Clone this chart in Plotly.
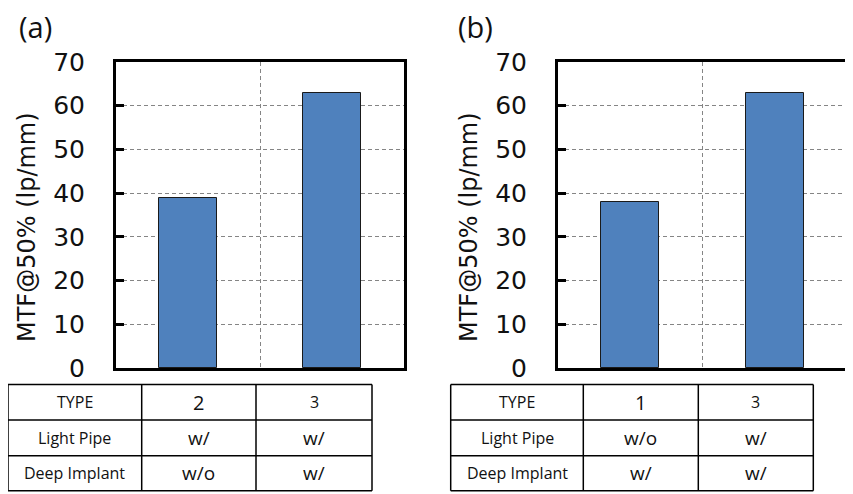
import plotly.graph_objects as go

# ---- data ----
panel_labels = ["(a)", "(b)"]
types_a = ["2", "3"]
types_b = ["1", "3"]
mtf_a = [39, 63]
mtf_b = [38, 63]
row_headers = ["TYPE", "Light Pipe", "Deep Implant"]
light_pipe_a = ["w/", "w/"]
deep_implant_a = ["w/o", "w/"]
light_pipe_b = ["w/o", "w/"]
deep_implant_b = ["w/", "w/"]
y_ticks = [0, 10, 20, 30, 40, 50, 60, 70]
y_title = "MTF@50% (lp/mm)"

W, H = 853, 494
OFF = 8  # page body margin
def px(x): return (x - OFF) / W
def py(y): return 1 - (y - OFF) / H

BAR = "#4F81BD"
GRID = "#858585"
fig = go.Figure()

panels = [
    dict(vals=mtf_a, types=types_a, lp=light_pipe_a, di=deep_implant_a,
         x0=116, x1=404, tab=[8, 141.7, 256, 372], lab=panel_labels[0], labx=17, titx=27),
    dict(vals=mtf_b, types=types_b, lp=light_pipe_b, di=deep_implant_b,
         x0=558, x1=847, tab=[450.7, 583.3, 698.3, 813.3], lab=panel_labels[1], labx=456, titx=469),
]
ytop, ybot = 62, 368
rows_y = [384.5, 420, 455.7, 490.7]

shapes = []
annotations = []
for i, p in enumerate(panels):
    xa = "x" if i == 0 else "x2"
    ya = "y" if i == 0 else "y2"
    fig.add_trace(go.Bar(x=[0, 1], y=p["vals"], width=0.4, xaxis=xa, yaxis=ya,
                         marker=dict(color=BAR, line=dict(color="#1a1a1a", width=1)),
                         showlegend=False, hoverinfo="y"))
    xkey = "xaxis" if i == 0 else "xaxis2"
    ykey = "yaxis" if i == 0 else "yaxis2"
    fig.update_layout(**{
        xkey: dict(domain=[px(p["x0"]), px(p["x1"])], range=[-0.5, 1.5],
                   tickvals=[0.5], showticklabels=False, ticks="",
                   showgrid=True, gridcolor=GRID, griddash="4px,3px", gridwidth=1,
                   showline=True, linecolor="black", linewidth=3, mirror=True,
                   zeroline=False, anchor=ya, fixedrange=True, automargin=False),
        ykey: dict(domain=[py(ybot), py(ytop)], range=[0, 70], tickvals=y_ticks,
                   ticks="inside", ticklen=8, tickwidth=3, tickcolor="black",
                   showgrid=True, gridcolor=GRID, griddash="4px,3px", gridwidth=1,
                   showline=True, linecolor="black", linewidth=3, mirror=True,
                   zeroline=False, anchor=xa, automargin=False,
                   tickfont=dict(family="DejaVu Sans", size=25, color="#111"),
                   ticklabelstandoff=23, fixedrange=True),
    })
    # y title
    annotations.append(dict(text=y_title, x=px(p["titx"]), y=py((ytop + ybot) / 2 + 12),
                            xref="paper", yref="paper", showarrow=False, textangle=-90,
                            font=dict(family="DejaVu Sans", size=24, color="#111"),
                            xanchor="center", yanchor="middle"))
    # panel label
    annotations.append(dict(text=p["lab"], x=px(p["labx"]), y=py(27), xref="paper", yref="paper",
                            showarrow=False, xanchor="left", yanchor="middle",
                            font=dict(family="Open Sans", size=29, color="#111")))
    # table
    tx = p["tab"]
    for xv in tx:
        shapes.append(dict(type="line", xref="paper", yref="paper", x0=px(xv), x1=px(xv),
                           y0=py(rows_y[0]), y1=py(rows_y[-1]), line=dict(color="black", width=1.5)))
    for yv in rows_y:
        shapes.append(dict(type="line", xref="paper", yref="paper", x0=px(tx[0]), x1=px(tx[-1]),
                           y0=py(yv), y1=py(yv), line=dict(color="black", width=1.5)))
    cells = [
        [row_headers[0]] + p["types"],
        [row_headers[1]] + p["lp"],
        [row_headers[2]] + p["di"],
    ]
    for r, row in enumerate(cells):
        yc = (rows_y[r] + rows_y[r + 1]) / 2
        for c, txt in enumerate(row):
            xc = (tx[c] + tx[c + 1]) / 2
            if c == 0:
                size = 16
            elif r == 0:
                size = 20 if c == 1 else 16
            else:
                size = 19
            annotations.append(dict(text=txt, x=px(xc), y=py(yc), xref="paper", yref="paper",
                                    showarrow=False, xanchor="center", yanchor="middle",
                                    font=dict(family="Open Sans", size=size, color="#111")))

fig.update_layout(width=W, height=H, margin=dict(l=0, r=0, t=0, b=0, autoexpand=False),
                  paper_bgcolor="white", plot_bgcolor="white",
                  shapes=shapes, annotations=annotations, bargap=0)
fig.write_html("out.html")
